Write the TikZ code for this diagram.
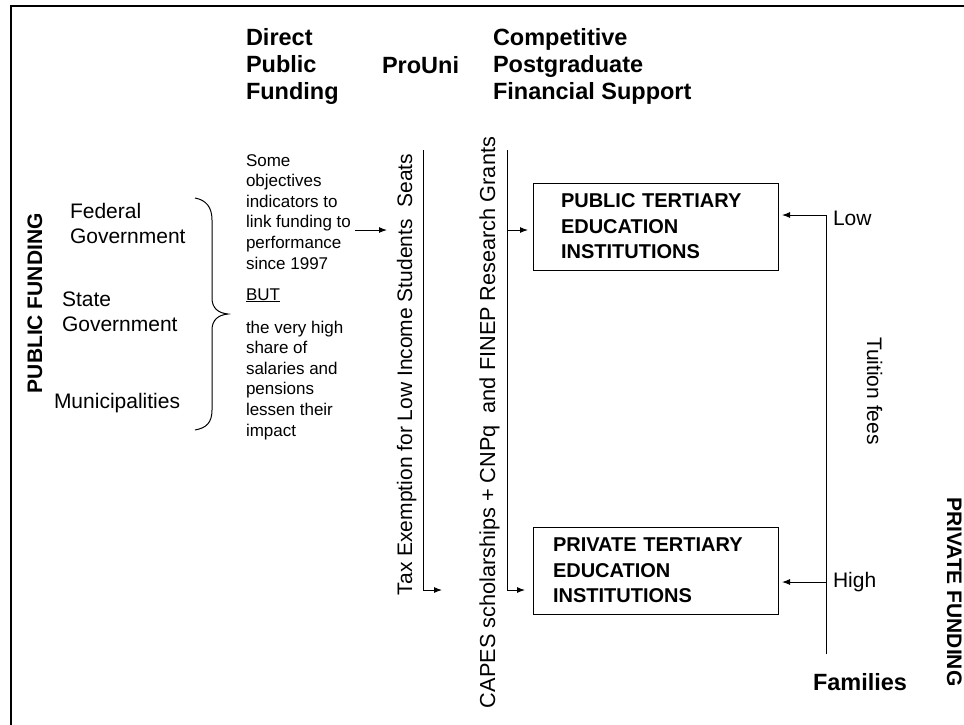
\documentclass[tikz,border=0pt]{standalone}
\usepackage{fontspec}
\setmainfont{Liberation Sans}
\usetikzlibrary{arrows.meta}
\begin{document}
\begin{tikzpicture}[x=1pt,y=-1pt,
  lbl/.style={inner sep=0pt, outer sep=0pt, align=left},
  hdr/.style={lbl, font=\fontsize{23.5}{27}\selectfont\bfseries},
  side/.style={lbl, font=\fontsize{21}{25}\selectfont\bfseries},
  body/.style={lbl, font=\fontsize{21}{25}\selectfont},
  note/.style={lbl, font=\fontsize{17}{20.6}\selectfont},
  inst/.style={draw, line width=1pt, outer sep=0pt, align=left,
    minimum width=245pt, minimum height=87pt, anchor=north west,
    font=\fontsize{20}{25.5}\selectfont\bfseries},
  link/.style={line width=1pt},
  arr/.style={link, -{Latex[length=8pt,width=6pt]}}]
\useasboundingbox (0,0) rectangle (964,724);
% frame
\draw[line width=2.2pt] (11,730) -- (11,6) -- (970,6);

% column headings (multi-line nodes are placed by the baseline of their last line)
\node[hdr, anchor=base west] (hdirect) at (246,99) {Direct\\Public\\Funding};
\node[hdr, anchor=base west] (hprouni) at (382,73) {ProUni};
\node[hdr, anchor=base west] (hcomp) at (493,99) {Competitive\\Postgraduate\\Financial Support};

% public side
\node[side, rotate=90, anchor=base west] (pubfund) at (42,393) {PUBLIC FUNDING};
\node[body, anchor=base west] (federal) at (70,243) {Federal\\Government};
\node[body, anchor=base west] (state) at (62,331) {State\\Government};
\node[body, anchor=base west] (munic) at (54,408) {Municipalities};

% brace gathering the three levels of government
\draw[link] (195,198) .. controls (206,200) and (212,207) .. (212,220)
  -- (212,298) .. controls (212,308) and (218,313) .. (228,314)
  .. controls (218,315) and (212,320) .. (212,330)
  -- (212,410) .. controls (212,423) and (206,428) .. (195,430);

% notes on direct funding
\node[note, anchor=base west] (objectives) at (246,269)
  {Some\\objectives\\indicators to\\link funding to\\performance\\since 1997};
\node[note, anchor=base west] (but) at (246,300) {\underline{BUT}};
\node[note, anchor=base west] (salaries) at (246,436)
  {the very high\\share of\\salaries and\\pensions\\lessen their\\impact};

% ProUni channel
\node[body, rotate=90, anchor=base west] (tax) at (412,595)
  {Tax Exemption for Low Income Students\ \ Seats};
\coordinate (taxtop) at (423,150);
\coordinate (taxbot) at (423,590);
\coordinate (taxend) at (442,590);
\draw[arr] (objectives.east |- 0,230) ++(4,0) coordinate (objout) -- (387,230) coordinate (objin);
\draw[arr] (taxtop) -- (taxbot) -- (taxend);

% competitive postgraduate channel
\node[lbl, font=\fontsize{21.7}{25}\selectfont, rotate=90, anchor=base west] (capes) at (495,708)
  {CAPES scholarships + CNPq\ \ and FINEP Research Grants};
\coordinate (capestop) at (507,150);
\coordinate (capesmid) at (507,230);
\coordinate (capesbot) at (507,590);

% institutions
\node[inst, inner xsep=28pt, text width=189pt] (public) at (533,183)
  {PUBLIC TERTIARY\\EDUCATION\\INSTITUTIONS};
\node[inst, inner xsep=20pt, text width=205pt] (private) at (533,527)
  {PRIVATE TERTIARY\\EDUCATION\\INSTITUTIONS};

\draw[link] (capestop) -- (capesbot);
\draw[arr, shorten >=5pt] (capesmid) -- (public.west |- capesmid);
\draw[arr, shorten >=8pt] (capesbot) -- (private.west |- capesbot);

% private side
\coordinate (feetop) at (826,215);
\coordinate (feehigh) at (826,582);
\coordinate (feebot) at (826,654);
\draw[link] (feetop) -- (feebot);
\draw[arr, shorten >=4pt] (feetop) -- (public.east |- feetop);
\draw[arr, shorten >=4pt] (feehigh) -- (private.east |- feehigh);
\node[body, anchor=base west] (low) at (833,225) {Low};
\node[body, anchor=base west] (high) at (833,587) {High};
\node[body, rotate=-90, anchor=base west] (fees) at (867,337) {Tuition fees};
\node[side, rotate=-90, anchor=base west] (privfund) at (947,497) {PRIVATE FUNDING};
\node[hdr, anchor=base west] (families) at (813,690) {Families};
\end{tikzpicture}
\end{document}
